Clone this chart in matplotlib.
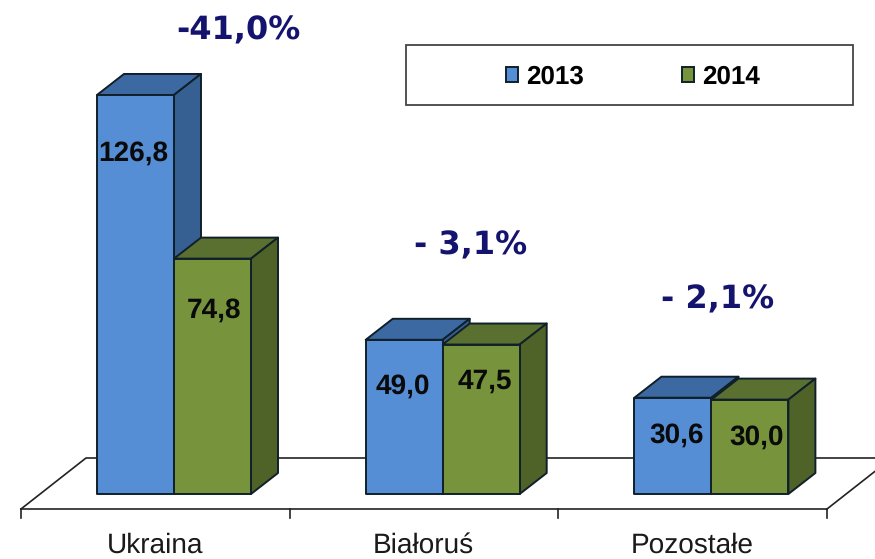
import matplotlib
matplotlib.use('Agg')
import matplotlib.pyplot as plt
from matplotlib.patches import Polygon, Rectangle

plt.rcParams['text.hinting'] = 'none'
plt.rcParams['text.hinting_factor'] = 1

categories = ['Ukraina', 'Białoruś', 'Pozostałe']
values_2013 = [126.8, 49.0, 30.6]
values_2014 = [74.8, 47.5, 30.0]
change_labels = ['-41,0%', '- 3,1%', '- 2,1%']
series_names = ['2013', '2014']

# colours: front, top, side
BLUE = ('#558ed5', '#3c69a1', '#376092')
GREEN = ('#77933c', '#5a7030', '#4f6228')
NAVY = '#14146e'
EDGE = '#10202a'

# scale of the picture: pixels per category and per value unit
PX_X = 268.7
PX_Y = 3.147
W, H = 875, 559
ORIGIN_X, ORIGIN_Y = 174, 494

BAR_W = 77 / PX_X
DX = 27 / PX_X
DY = 21 / PX_Y


def px(x, y):
    return (x - ORIGIN_X) / PX_X, (ORIGIN_Y - y) / PX_Y


def draw_bar(ax, x0, value, colours, zorder):
    x1 = x0 + BAR_W
    kw = dict(edgecolor=EDGE, linewidth=1.4, joinstyle='round', zorder=zorder)
    ax.add_patch(Polygon([(x0, value), (x1, value), (x1 + DX, value + DY), (x0 + DX, value + DY)],
                         facecolor=colours[1], **kw))
    ax.add_patch(Polygon([(x1, 0), (x1 + DX, DY), (x1 + DX, value + DY), (x1, value)],
                         facecolor=colours[2], **kw))
    ax.add_patch(Rectangle((x0, 0), BAR_W, value, facecolor=colours[0], **kw))


fig = plt.figure(figsize=(W / 100, H / 100), dpi=100)
ax = fig.add_axes([0, 0, 1, 1])
ax.set_xlim(-ORIGIN_X / PX_X, (W - ORIGIN_X) / PX_X)
ax.set_ylim((ORIGIN_Y - H) / PX_Y, ORIGIN_Y / PX_Y)
ax.axis('off')

# floor
x_left, floor_y = px(21, 509)
x_right, _ = px(827, 509)
floor_dx = 65 / PX_X
back_y = floor_y + 51 / PX_Y
line = dict(color='#222222', lw=1.2, zorder=1)
ax.plot([x_left, x_right], [floor_y, floor_y], **line)
ax.plot([x_left, x_left + floor_dx, x_right + floor_dx, x_right],
        [floor_y, back_y, back_y, floor_y], **line)
for i in range(len(categories) + 1):
    xt = x_left + i * (x_right - x_left) / len(categories)
    ax.plot([xt, xt], [floor_y, floor_y - 9 / PX_Y], **line)

for i, cat in enumerate(categories):
    draw_bar(ax, i - BAR_W, values_2013[i], BLUE, 4)
    draw_bar(ax, i, values_2014[i], GREEN, 5)
    ax.text(i + (155 - 174) / PX_X, -51 / PX_Y, cat, ha='center', va='center',
            fontsize=20.3, family='Liberation Sans', color='#1a1a1a', zorder=6)

# value labels are placed by hand in the original
label_pos_2013 = [(133, 153), (403, 386), (677, 435)]
label_pos_2014 = [(214, 310), (485, 381), (757, 437)]
for vals, pos in ((values_2013, label_pos_2013), (values_2014, label_pos_2014)):
    for v, (xp, yp) in zip(vals, pos):
        ax.text(*px(xp, yp), f'{v:.1f}'.replace('.', ','), ha='center', va='center',
                fontsize=20.4, fontweight='bold', family='Liberation Sans', color='#0a0a0a', zorder=7)

change_pos = [(238, 31), (471, 246), (718, 300)]
for s, (xp, yp) in zip(change_labels, change_pos):
    ax.text(*px(xp, yp), s, ha='center', va='center', fontsize=22.8, fontweight='bold',
            family='DejaVu Sans', color=NAVY, zorder=7)

# legend box
x0, y0 = px(406, 105)
x1, y1 = px(853, 45)
ax.add_patch(Rectangle((x0, y0), x1 - x0, y1 - y0, facecolor='white', edgecolor='#444444',
                       linewidth=1.3, zorder=2))
handles = [Rectangle((0, 0), 1, 1, facecolor=c[0], edgecolor=EDGE, linewidth=1.4) for c in (BLUE, GREEN)]
ax.legend(handles, series_names, ncol=2, frameon=False, loc='center',
          bbox_to_anchor=px(633, 77), bbox_transform=ax.transData,
          prop={'family': 'Liberation Sans', 'weight': 'bold', 'size': 18.8},
          handlelength=0.46, handleheight=0.46, handletextpad=0.3, columnspacing=3.75)

fig.savefig('out.png', dpi=100)
